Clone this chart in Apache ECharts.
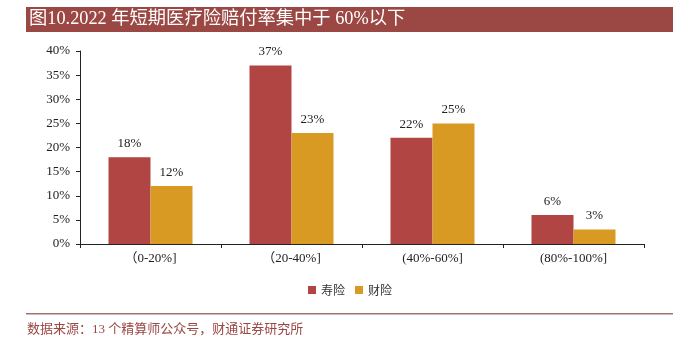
<!DOCTYPE html>
<html>
<head>
<meta charset="utf-8">
<script src="https://cdn.jsdelivr.net/npm/echarts@6/dist/echarts.min.js"></script>
<style>
  html, body { margin: 0; padding: 0; background: #fff; }
  #chart { width: 700px; height: 349px; }
</style>
</head>
<body>
<div id="chart"></div>
<script>
// Claim-ratio bands (categories) and share of short-term medical policies per band
const categories = ['（0-20%]', '（20-40%]', '(40%-60%]', '(80%-100%]'];
const lifeInsurance = [18, 37, 22, 6];      // 寿险
const propertyInsurance = [12, 23, 25, 3];  // 财险
const seriesNames = ['寿险', '财险'];
const yTicks = { min: 0, max: 40, interval: 5 };

const titleText = '图10.2022 年短期医疗险赔付率集中于 60%以下';
const sourceText = '数据来源：13 个精算师公众号，财通证券研究所';

const serif = '"Liberation Serif", "Times New Roman", "Noto Sans CJK SC", serif';
const RED = '#B04543';
const GOLD = '#D99A24';

const chart = echarts.init(document.getElementById('chart'));

const labelStyle = {
  show: true,
  position: 'top',
  distance: 7,
  formatter: p => p.value + '%',
  fontFamily: serif,
  fontSize: 13,
  color: '#222'
};

chart.setOption({
  animation: false,
  backgroundColor: '#fff',
  grid: { left: 80, right: 56, top: 51, bottom: 105, containLabel: false },
  legend: {
    data: seriesNames,
    bottom: 48,
    left: 'center',
    itemWidth: 8,
    itemHeight: 8,
    itemGap: 10,
    icon: 'rect',
    textStyle: { fontFamily: '"Noto Sans CJK SC", serif', fontSize: 12, color: '#333' }
  },
  xAxis: {
    type: 'category',
    data: categories,
    axisLine: { lineStyle: { color: '#222', width: 1 } },
    axisTick: { show: true, alignWithLabel: false, length: 4, lineStyle: { color: '#222' } },
    axisLabel: { fontFamily: serif, fontSize: 13, color: '#222', margin: 8 }
  },
  yAxis: {
    type: 'value',
    min: yTicks.min,
    max: yTicks.max,
    interval: yTicks.interval,
    splitLine: { show: false },
    axisLine: { show: true, lineStyle: { color: '#222', width: 1 } },
    axisTick: { show: true, length: 4, lineStyle: { color: '#222' } },
    axisLabel: { formatter: '{value}%', fontFamily: serif, fontSize: 13, color: '#222', margin: 10 }
  },
  series: [
    {
      name: seriesNames[0],
      type: 'bar',
      data: lifeInsurance,
      barWidth: 42,
      barGap: '0%',
      itemStyle: { color: RED },
      label: labelStyle
    },
    {
      name: seriesNames[1],
      type: 'bar',
      data: propertyInsurance,
      barWidth: 42,
      barGap: '0%',
      itemStyle: { color: GOLD },
      label: labelStyle
    }
  ],
  graphic: [
    {
      type: 'rect',
      left: 26, top: 7,
      shape: { width: 647, height: 25 },
      style: { fill: '#9B4744' }
    },
    {
      type: 'text',
      left: 29, top: 10,
      style: { text: titleText, fill: '#fff', fontFamily: serif, fontSize: 18.3 }
    },
    {
      type: 'rect',
      left: 26, top: 313,
      shape: { width: 647, height: 1.5 },
      style: { fill: '#9E7373' }
    },
    {
      type: 'text',
      left: 27, top: 323,
      style: { text: sourceText, fill: '#9B4744', fontFamily: serif, fontSize: 13 }
    }
  ]
});
</script>
</body>
</html>
